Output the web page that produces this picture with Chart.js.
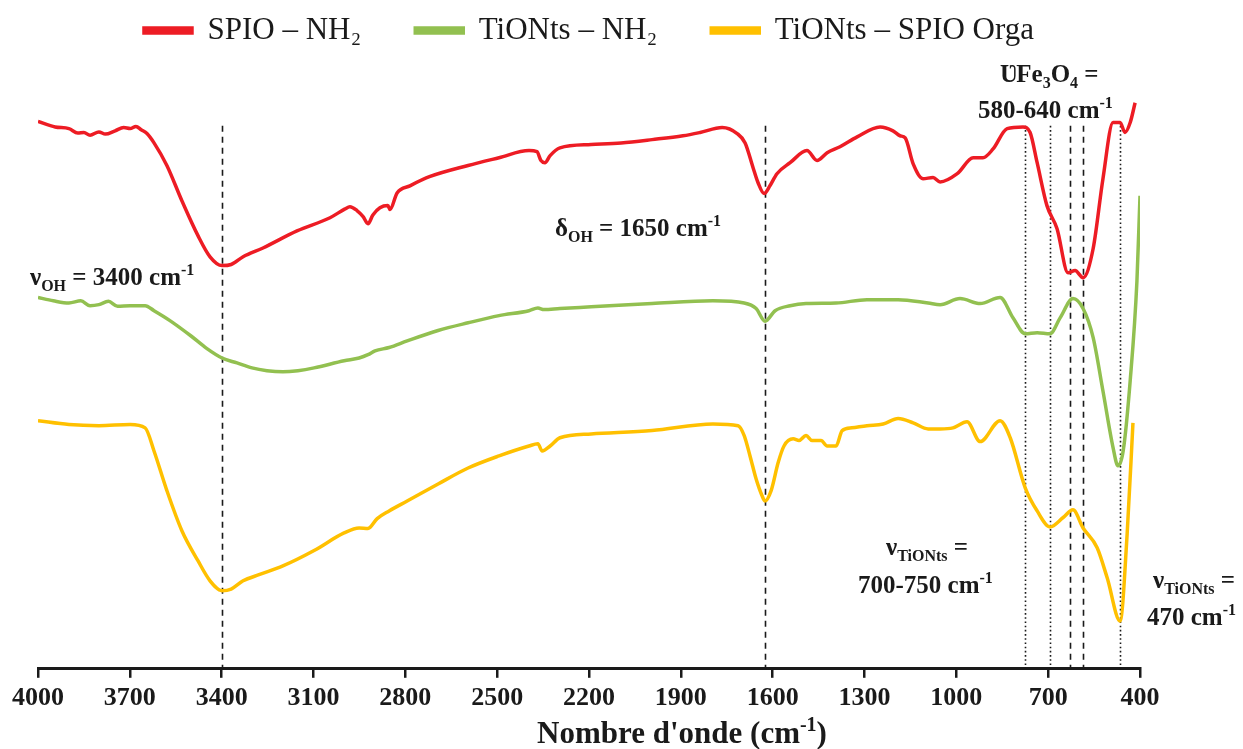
<!DOCTYPE html>
<html>
<head>
<meta charset="utf-8">
<script src="https://cdn.jsdelivr.net/npm/chart.js@4.4.1/dist/chart.umd.min.js"></script>
<style>
  html, body { margin: 0; padding: 0; background: #fff; }
</style>
</head>
<body>
<canvas id="ftirChart" width="1243" height="749"></canvas>
<script>
// x axis ticks (wavenumber, cm-1), drawn right-to-left
const tickValues = [4000, 3700, 3400, 3100, 2800, 2500, 2200, 1900, 1600, 1300, 1000, 700, 400];

// SPIO - NH2 (red)
const redX = [4000, 3944, 3899, 3870, 3850, 3830, 3801, 3780, 3748, 3720,
    3699, 3680, 3663, 3644, 3621, 3579, 3530, 3477, 3438, 3399,
    3369, 3330, 3265, 3154, 3046, 2997, 2981, 2958, 2938, 2922,
    2906, 2883, 2857, 2850, 2827, 2785, 2719, 2595, 2494, 2396,
    2370, 2357, 2344, 2327, 2295, 2193, 2095, 1994, 1893, 1837,
    1765, 1716, 1690, 1664, 1648, 1628, 1609, 1586, 1543, 1488,
    1455, 1422, 1380, 1324, 1249, 1207, 1184, 1167, 1141, 1109,
    1076, 1053, 997, 945, 913, 880, 834, 782, 759, 736,
    704, 671, 635, 612, 586, 553, 521, 488, 465, 449,
    432, 416];
const redY = [99.5, 98.5, 98.2, 97.4, 97.5, 97.0, 97.6, 97.2, 97.8, 98.4,
    98.2, 98.6, 98.0, 97.3, 95.6, 91.5, 85.1, 78.7, 74.9, 73.3,
    73.5, 74.9, 76.5, 79.6, 82.0, 83.6, 84.0, 83.3, 82.2, 80.9,
    82.5, 83.8, 84.2, 83.5, 86.5, 87.8, 89.5, 91.5, 92.9, 94.2,
    94.0, 92.4, 92.0, 93.3, 94.7, 95.3, 95.6, 96.2, 96.9, 97.5,
    98.4, 97.3, 95.6, 91.1, 88.4, 86.4, 87.8, 90.0, 92.0, 94.2,
    92.4, 93.8, 94.9, 96.7, 98.5, 97.8, 96.9, 96.5, 91.8, 89.1,
    89.3, 88.5, 90.0, 92.9, 92.9, 94.5, 98.2, 98.5, 97.5, 92.0,
    84.2, 80.0, 72.0, 72.4, 71.1, 76.4, 89.1, 99.3, 99.3, 97.5,
    99.3, 102.9];

// TiONts - NH2 (green)
const greenX = [4000, 3950, 3899, 3860, 3830, 3801, 3770, 3740, 3699, 3650,
    3621, 3569, 3500, 3448, 3399, 3350, 3301, 3252, 3200, 3151,
    3098, 3000, 2951, 2922, 2899, 2853, 2794, 2693, 2595, 2494,
    2396, 2367, 2347, 2295, 2193, 1994, 1795, 1693, 1654, 1625,
    1592, 1543, 1491, 1393, 1292, 1190, 1092, 1053, 988, 922,
    857, 815, 775, 736, 694, 661, 619, 586, 553, 521,
    488, 472, 455, 432, 410, 400];
const greenY = [67.5, 66.9, 66.5, 66.9, 66.0, 66.2, 66.8, 65.9, 66.0, 66.0,
    65.1, 63.3, 60.5, 58.2, 56.5, 55.6, 54.7, 54.2, 54.0, 54.2,
    54.7, 56.0, 56.5, 57.1, 57.8, 58.4, 59.6, 61.5, 62.9, 64.2,
    65.1, 65.6, 65.3, 65.5, 65.8, 66.4, 66.9, 66.5, 65.5, 63.2,
    65.1, 66.0, 66.4, 66.5, 67.1, 67.1, 66.5, 66.2, 67.3, 66.4,
    67.5, 63.8, 60.9, 61.1, 60.9, 63.8, 67.3, 65.5, 60.2, 50.5,
    40.2, 36.9, 39.6, 52.4, 70.5, 86.0];

// TiONts - SPIO Orga (yellow)
const yellowX = [4000, 3899, 3801, 3699, 3650, 3621, 3579, 3530, 3477, 3438,
    3399, 3369, 3330, 3278, 3200, 3098, 3000, 2951, 2922, 2892,
    2853, 2794, 2693, 2595, 2494, 2396, 2367, 2353, 2327, 2295,
    2193, 1994, 1795, 1713, 1693, 1674, 1654, 1635, 1625, 1605,
    1582, 1563, 1533, 1514, 1491, 1471, 1442, 1422, 1393, 1373,
    1341, 1292, 1239, 1190, 1141, 1092, 1053, 1011, 965, 922,
    857, 824, 775, 736, 694, 651, 619, 586, 540, 507,
    465, 442, 423];
const yellowY = [45.1, 44.4, 44.2, 44.4, 43.8, 39.6, 32.4, 25.1, 19.6, 16.0,
    14.2, 14.5, 16.0, 17.1, 18.7, 21.5, 24.7, 25.6, 25.5, 27.3,
    28.7, 30.5, 33.6, 36.5, 38.7, 40.5, 40.9, 39.6, 40.5, 42.0,
    42.7, 43.3, 44.5, 44.2, 42.4, 38.7, 34.5, 31.5, 30.5, 32.4,
    37.5, 40.5, 41.8, 41.5, 42.4, 41.5, 41.5, 40.5, 40.5, 43.3,
    43.8, 44.2, 44.5, 45.5, 44.7, 43.6, 43.6, 43.8, 44.9, 41.3,
    45.1, 42.0, 32.9, 28.7, 25.8, 27.5, 28.9, 25.6, 22.0, 16.5,
    8.7, 24.5, 44.7];

// vertical reference lines
const markerX = [3400, 1625, 775, 695, 630, 585, 465];
const markerStyle = ['dash', 'dash', 'dot', 'dot', 'dash', 'dash', 'dot'];
const markerTop = 98.7;

const SERIF = '"Liberation Serif", "Times New Roman", serif';

function toPoints(xs, ys) {
    return xs.map((x, i) => ({ x: x, y: ys[i] }));
}

// draws text made of normal / subscript / superscript pieces
function drawRich(ctx, x, y, parts, size, align) {
    const small = Math.round(size * 0.64);
    let total = 0;
    parts.forEach(p => {
        ctx.font = 'bold ' + (p[1] === 'n' ? size : small) + 'px ' + SERIF;
        total += ctx.measureText(p[0]).width;
    });
    if (align === 'center') x -= total / 2;
    parts.forEach(p => {
        const fs = p[1] === 'n' ? size : small;
        ctx.font = 'bold ' + fs + 'px ' + SERIF;
        let dy = 0;
        if (p[1] === 'sub') dy = size * 0.25;
        if (p[1] === 'sup') dy = -size * 0.4;
        ctx.fillText(p[0], x, y + dy);
        x += ctx.measureText(p[0]).width;
    });
}

const annotations = [
    { x: 30, y: 285, parts: [['ν', 'n'], ['OH', 'sub'], [' = 3400 cm', 'n'], ['-1', 'sup']] },
    { x: 555, y: 236, parts: [['δ', 'n'], ['OH', 'sub'], [' = 1650 cm', 'n'], ['-1', 'sup']] },
    { x: 1000, y: 82, parts: [['Ʋ', 'n'], ['Fe', 'n'], ['3', 'sub'], ['O', 'n'], ['4', 'sub'], [' =', 'n']] },
    { x: 978, y: 118, parts: [['580-640 cm', 'n'], ['-1', 'sup']] },
    { x: 886, y: 555, parts: [['ν', 'n'], ['TiONts', 'sub'], [' =', 'n']] },
    { x: 858, y: 593, parts: [['700-750 cm', 'n'], ['-1', 'sup']] },
    { x: 1153, y: 588, parts: [['ν', 'n'], ['TiONts', 'sub'], [' =', 'n']] },
    { x: 1147, y: 625, parts: [['470 cm', 'n'], ['-1', 'sup']] }
];

const ftirPlugin = {
    id: 'ftirDecor',
    beforeDatasetsDraw(chart) {
        const ctx = chart.ctx;
        const xs = chart.scales.x, ys = chart.scales.y;
        ctx.save();
        ctx.strokeStyle = '#1a1a1a';
        ctx.lineWidth = 1.6;
        markerX.forEach((w, i) => {
            ctx.setLineDash(markerStyle[i] === 'dash' ? [6, 5] : [1.6, 2.6]);
            const px = Math.round(xs.getPixelForValue(w)) + 0.5;
            ctx.beginPath();
            ctx.moveTo(px, ys.getPixelForValue(markerTop));
            ctx.lineTo(px, ys.getPixelForValue(0));
            ctx.stroke();
        });
        ctx.restore();
    },
    afterDraw(chart) {
        const ctx = chart.ctx;
        ctx.save();
        ctx.fillStyle = '#1a1a1a';
        ctx.textBaseline = 'alphabetic';
        ctx.textAlign = 'left';
        annotations.forEach(a => drawRich(ctx, a.x, a.y, a.parts, 25, 'left'));
        // axis title
        drawRich(ctx, 682, 743, [["Nombre d'onde (cm", 'n'], ['-1', 'sup'], [')', 'n']], 31, 'center');
        ctx.restore();
    }
};

const ctx = document.getElementById('ftirChart').getContext('2d');
new Chart(ctx, {
    type: 'line',
    data: {
        datasets: [{
            label: 'SPIO – NH₂',
            data: toPoints(redX, redY),
            borderColor: '#ed1c24',
            backgroundColor: '#ed1c24',
        }, {
            label: 'TiONts – NH₂',
            data: toPoints(greenX, greenY),
            borderColor: '#92c050',
            backgroundColor: '#92c050',
        }, {
            label: 'TiONts – SPIO Orga',
            data: toPoints(yellowX, yellowY),
            borderColor: '#ffc000',
            backgroundColor: '#ffc000',
        }]
    },
    options: {
        responsive: false,
        animation: false,
        devicePixelRatio: 1,
        layout: {
            padding: { left: 38, right: 103, top: -39, bottom: 30 }
        },
        elements: {
            line: { borderWidth: 3.5, cubicInterpolationMode: 'monotone', fill: false },
            point: { radius: 0 }
        },
        plugins: {
            tooltip: { enabled: false },
            legend: {
                display: true,
                position: 'top',
                labels: {
                    boxWidth: 48,
                    boxHeight: 5,
                    padding: 54,
                    color: '#1a1a1a',
                    font: { family: SERIF, size: 31 }
                }
            }
        },
        scales: {
            x: {
                type: 'linear',
                reverse: true,
                min: 400,
                max: 4000,
                afterBuildTicks: function (scale) {
                    scale.ticks = tickValues.map(v => ({ value: v }));
                },
                ticks: {
                    color: '#1a1a1a',
                    padding: 5,
                    maxRotation: 0,
                    autoSkip: false,
                    font: { family: SERIF, size: 26, weight: 'bold' },
                    callback: function (value) {
                        return String(value);
                    }
                },
                grid: {
                    display: true,
                    drawOnChartArea: false,
                    drawTicks: true,
                    tickLength: 9,
                    lineWidth: 2.5,
                    color: '#1a1a1a'
                },
                border: { display: true, color: '#1a1a1a', width: 3 }
            },
            y: {
                display: false,
                min: 0,
                max: 111.4
            }
        }
    },
    plugins: [ftirPlugin]
});
</script>
</body>
</html>
